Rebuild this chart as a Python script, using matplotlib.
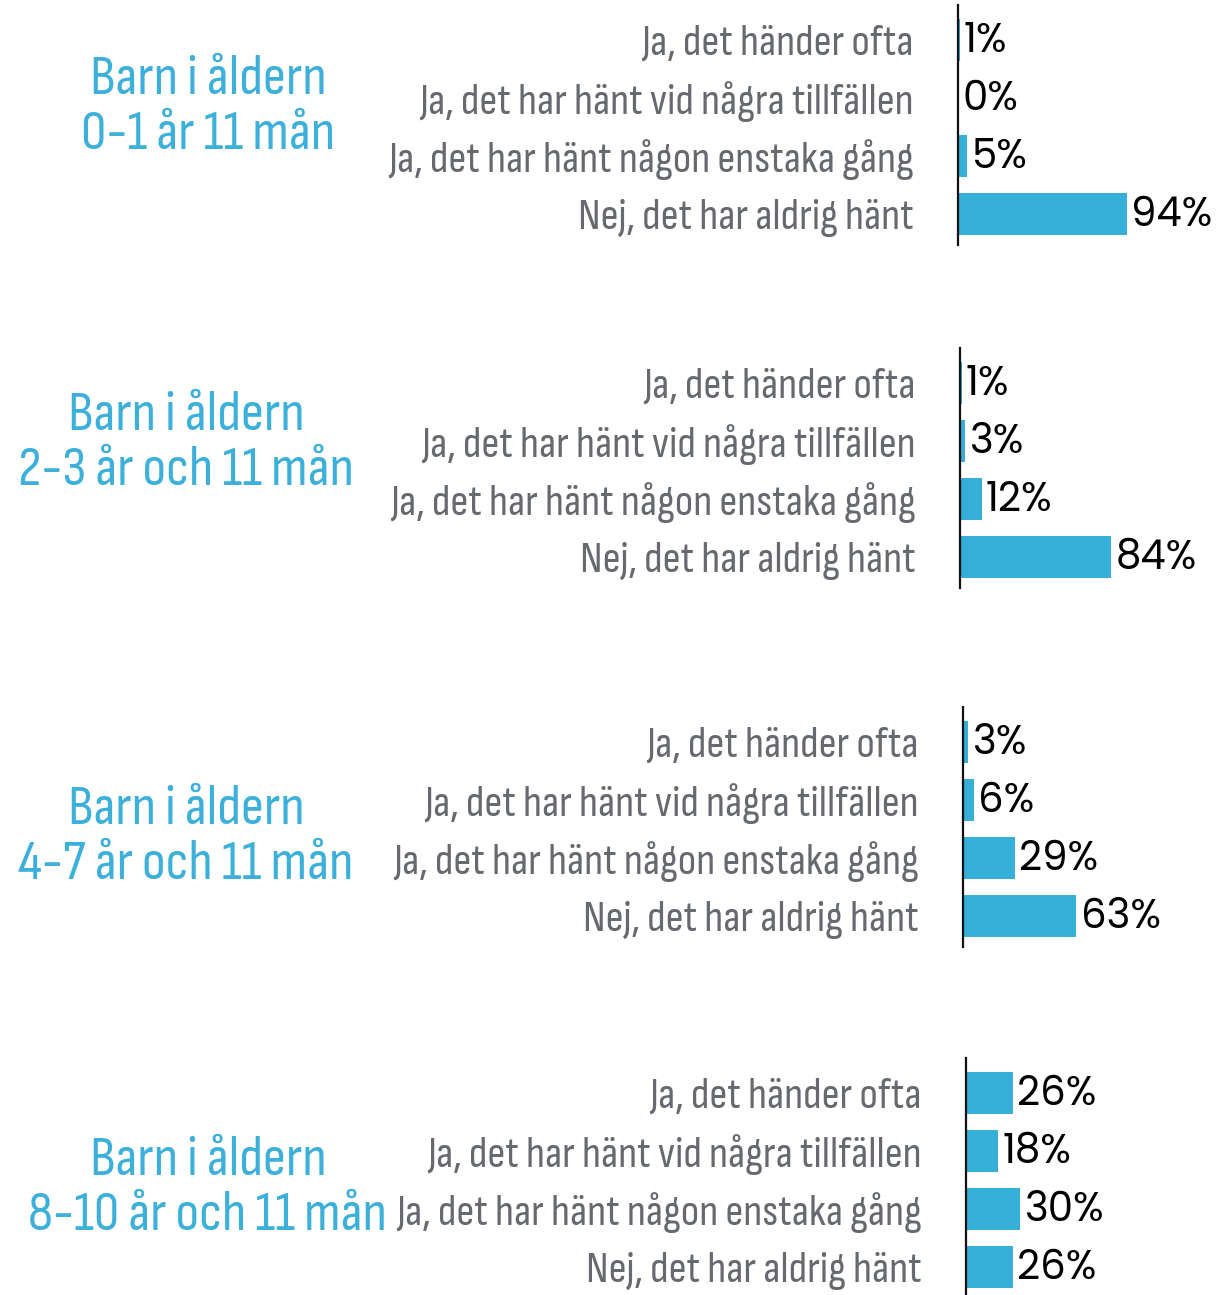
import numpy as np
import matplotlib
matplotlib.use('Agg')
import matplotlib.pyplot as plt

# survey answers per age group (percent)
answers = ['Ja, det händer ofta',
           'Ja, det har hänt vid några tillfällen',
           'Ja, det har hänt någon enstaka gång',
           'Nej, det har aldrig hänt']
groups = ['Barn i åldern\n0-1 år 11 mån',
          'Barn i åldern\n2-3 år och 11 mån',
          'Barn i åldern\n4-7 år och 11 mån',
          'Barn i åldern\n8-10 år och 11 mån']
age_0_1 = [1, 0, 5, 94]
age_2_3 = [1, 3, 12, 84]
age_4_7 = [3, 6, 29, 63]
age_8_10 = [26, 18, 30, 26]
values = [age_0_1, age_2_3, age_4_7, age_8_10]

W, H = 1228, 1295
fig = plt.figure(figsize=(W / 100, H / 100), dpi=100)

blue = '#35aed8'
title_blue = '#3cb0da'
grey = '#66696e'
cond = ['Sofia Sans Condensed', 'Roboto Condensed', 'DejaVu Sans']
num = ['Poppins', 'Lato', 'DejaVu Sans']

# pixel layout of each panel
axis_x = [958, 960, 963, 966]
row0 = [40, 383, 742, 1093]
title_x = [208, 186, 186, 208]
title_y = [107, 443, 837, 1188]
step = 58
px_per_pct = 1.8
ax_w = 262

for i in range(4):
    top = row0[i] - 35
    bottom = row0[i] + 3 * step + 31
    ax = fig.add_axes([axis_x[i] / W, 1 - bottom / H, ax_w / W, (bottom - top) / H])
    y = np.arange(4)
    ax.barh(y, values[i], height=0.74, color=blue)
    ax.set_xlim(0, ax_w / px_per_pct)
    ax.set_ylim(3 + 31 / step, -35 / step)
    ax.set_yticks(y)
    ax.set_yticklabels(answers, family=cond, weight='light', fontsize=32, color=grey)
    ax.tick_params(axis='y', length=0, pad=32)
    ax.set_xticks([])
    for s in ['top', 'right', 'bottom']:
        ax.spines[s].set_visible(False)
    ax.spines['left'].set_linewidth(1.6)
    ax.spines['left'].set_color('#111111')
    for yy, v in zip(y, values[i]):
        ax.annotate(f'{v}%', (v, yy), xytext=(3, -1.5), textcoords='offset points',
                    va='center', ha='left', family=num, fontsize=29, color='black')
    fig.text(title_x[i] / W, 1 - title_y[i] / H, groups[i], family=cond,
             weight='light', fontsize=41, color=title_blue, ha='center', va='center',
             linespacing=1.15)

plt.savefig('out.png', dpi=100)
